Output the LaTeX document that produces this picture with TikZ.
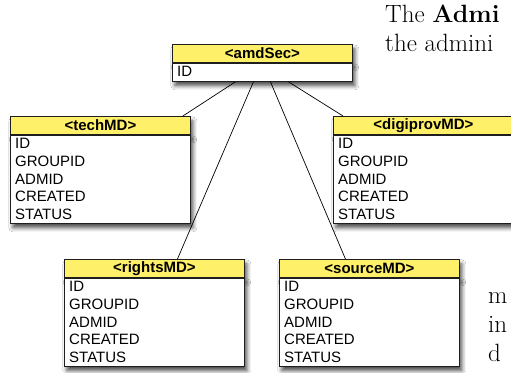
\documentclass[tikz,border=0pt]{standalone}
\usepackage{fontspec}
\setsansfont{Liberation Sans}
\usetikzlibrary{shadows.blur}
\definecolor{hdr}{RGB}{255,240,105}
\definecolor{edge}{RGB}{30,30,30}
\tikzset{
  shd/.style={blur shadow={shadow xshift=2.5pt, shadow yshift=-4.5pt, shadow blur radius=4pt, shadow opacity=70}},
  hd/.style={draw=edge, line width=0.9pt, fill=hdr, minimum width=180pt, minimum height=18pt, inner sep=0pt, font=\sffamily\bfseries\fontsize{15}{15}\selectfont, shd},
  bd/.style={draw=edge, line width=0.9pt, fill=white, minimum width=180pt, inner sep=0pt, shd},
  rowtxt/.style={anchor=base west, inner sep=0pt, font=\sffamily\fontsize{15}{15}\selectfont},
  conn/.style={draw=black, line width=0.7pt},
  pg/.style={anchor=base west, inner sep=0pt, font=\rmfamily\fontsize{25}{25}\selectfont}
}
\newcommand\mdtable[6]{%
  \node[hd, anchor=north west] (#1h) at (#2,#3) {\textless#4\textgreater};
  \node[bd, anchor=north, minimum height=#5pt] (#1) at (#1h.south) {};
  \foreach \r [count=\i] in {#6}
    \node[rowtxt] at ([xshift=5pt, yshift={-(\i*17.6-3.6)*1pt}]#1.north west) {\r};
}
\begin{document}
\begin{tikzpicture}[x=1pt,y=-1pt]
\useasboundingbox (0,0) rectangle (511,372);
\clip (0,0) rectangle (511,372);
\fill[white] (0,0) rectangle (511,372);

\mdtable{amd}{172}{44}{amdSec}{18}{ID}
\mdtable{tech}{10}{116}{techMD}{88}{ID,GROUPID,ADMID,CREATED,STATUS}
\mdtable{digi}{333}{116}{digiprovMD}{88}{ID,GROUPID,ADMID,CREATED,STATUS}
\mdtable{rights}{64}{259}{rightsMD}{88}{ID,GROUPID,ADMID,CREATED,STATUS}
\mdtable{source}{279}{259}{sourceMD}{88}{ID,GROUPID,ADMID,CREATED,STATUS}

\draw[conn] ([xshift=-27pt]amd.south) -- ([xshift=-8pt]techh.north east);
\draw[conn] ([xshift=-9pt]amd.south) -- ([xshift=23pt]rightsh.north);
\draw[conn] ([xshift=8pt]amd.south) -- ([xshift=-24pt]sourceh.north);
\draw[conn] ([xshift=26pt]amd.south) -- ([xshift=10pt]digih.north west);

\node[pg] (p1) at (385,22) {The \textbf{Admi}};
\node[pg] (p2) at (385,51) {the admini};
\node[pg] (p3) at (488,303) {m};
\node[pg] (p4) at (488,332) {in};
\node[pg] (p5) at (488,361) {d};
\end{tikzpicture}
\end{document}
